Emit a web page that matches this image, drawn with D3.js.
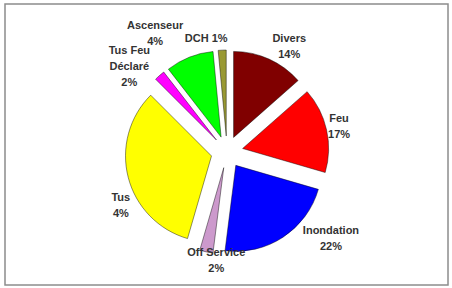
<!DOCTYPE html>
<html>
<head>
<meta charset="utf-8">
<script src="https://cdn.jsdelivr.net/npm/d3@7"></script>
<style>
  body { margin: 0; background: #fff; }
  text { font-family: "Liberation Sans", Arial, sans-serif; font-weight: bold; font-size: 11px; fill: #333; }
</style>
</head>
<body>
<svg id="chart" width="452" height="288"></svg>
<script>
// slices, clockwise from 12 o'clock
var categories = ["Divers", "Feu", "Inondation", "Off Service", "Tus", "Tus Feu Déclaré", "Ascenseur", "DCH"]
var values = [13.5, 16, 22.5, 2.5, 33, 2, 9, 1.5]
// label text as printed on the chart
var labelLines = [["Divers", "14%"], ["Feu", "17%"], ["Inondation", "22%"], ["Off Service", "2%"],
                  ["Tus", "4%"], ["Tus Feu", "Déclaré", "2%"], ["Ascenseur", "4%"], ["DCH 1%"]]
var colors = ["#800000", "#ff0000", "#0000ff", "#cc99cc", "#ffff00", "#ff00ff", "#00ff00", "#999933"]

// layout
var cx = 227, cy = 152, r = 86, explode = 16
var labelNudge = [[12, 5], [-7, 1], [37, -16], [14, -11], [12, 23], [-17, 6], [-27, -6], [-15, 8]]

var svg = d3.select("#chart")

svg.append("rect")
  .attr("x", 5).attr("y", 4)
  .attr("width", 443).attr("height", 281)
  .attr("fill", "white")
  .attr("stroke", "#8c8c8c")
  .attr("stroke-width", 1.5)

var pie = d3.pie().sort(null).value(function(d) { return d })
var arcs = pie(values)
var arc = d3.arc().innerRadius(0).outerRadius(r)

var g = svg.append("g").attr("transform", "translate(" + cx + "," + cy + ")")

g.selectAll("path")
  .data(arcs)
  .enter()
  .append("path")
  .attr("d", arc)
  .attr("transform", function(d) {
    var a = (d.startAngle + d.endAngle) / 2
    return "translate(" + (Math.sin(a) * explode) + "," + (-Math.cos(a) * explode) + ")"
  })
  .attr("fill", function(d, i) { return colors[i] })
  .attr("stroke", "#000")
  .attr("stroke-opacity", 0.55)
  .attr("stroke-width", 0.8)

var labels = g.selectAll("text")
  .data(arcs)
  .enter()
  .append("text")
  .attr("text-anchor", "middle")
  .attr("transform", function(d, i) {
    var a = (d.startAngle + d.endAngle) / 2
    var R = r + explode + 20
    var x = Math.sin(a) * R + labelNudge[i][0]
    var y = -Math.cos(a) * R + labelNudge[i][1]
    var n = labelLines[i].length
    return "translate(" + x + "," + (y - (n - 1) * 8 + 4) + ")"
  })

labels.selectAll("tspan")
  .data(function(d, i) { return labelLines[i] })
  .enter()
  .append("tspan")
  .attr("x", 0)
  .attr("dy", function(d, j) { return j == 0 ? 0 : 16 })
  .text(function(d) { return d })
</script>
</body>
</html>
